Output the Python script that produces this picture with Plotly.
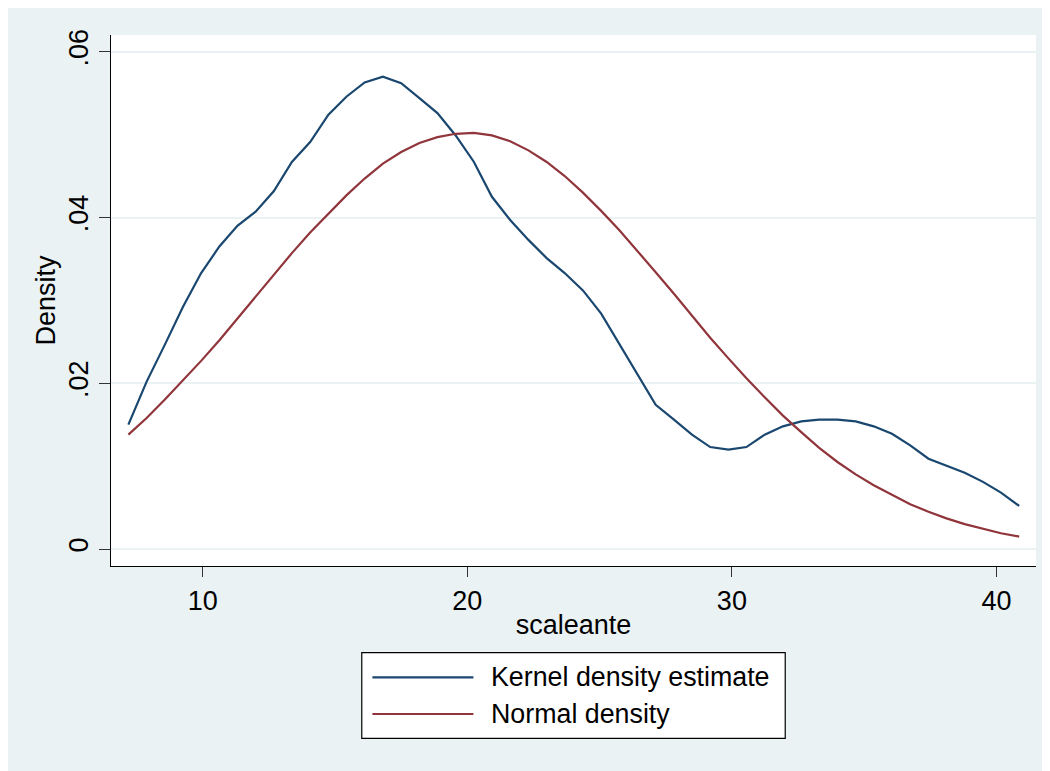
import plotly.graph_objects as go

# ---- data ----
x_grid = [7.19, 7.88, 8.56, 9.25, 9.94, 10.63, 11.31, 12.00, 12.69, 13.37,
          14.06, 14.75, 15.44, 16.12, 16.81, 17.50, 18.19, 18.87, 19.56, 20.25,
          20.93, 21.62, 22.31, 23.00, 23.68, 24.37, 25.06, 25.74, 26.43, 27.12,
          27.81, 28.49, 29.18, 29.87, 30.55, 31.24, 31.93, 32.62, 33.30, 33.99,
          34.68, 35.36, 36.05, 36.74, 37.43, 38.11, 38.80, 39.49, 40.17, 40.86]

kernel_density = [0.0150, 0.0202, 0.0246, 0.0292, 0.0333, 0.0365, 0.0390, 0.0407, 0.0432, 0.0467,
                  0.0491, 0.0524, 0.0546, 0.0563, 0.0570, 0.0562, 0.0544, 0.0526, 0.0499, 0.0467,
                  0.0425, 0.0397, 0.0373, 0.0351, 0.0333, 0.0312, 0.0284, 0.0248, 0.0210, 0.0174,
                  0.0156, 0.0138, 0.0123, 0.0120, 0.0123, 0.0138, 0.0148, 0.0154, 0.0156, 0.0156,
                  0.0154, 0.0148, 0.0139, 0.0125, 0.0109, 0.0101, 0.0092, 0.0081, 0.0068, 0.0052]

normal_density = [0.0138, 0.0158, 0.0180, 0.0203, 0.0227, 0.0252, 0.0278, 0.0305, 0.0331, 0.0357,
                  0.0382, 0.0405, 0.0427, 0.0447, 0.0465, 0.0479, 0.0490, 0.0497, 0.0501, 0.0502,
                  0.0499, 0.0492, 0.0481, 0.0467, 0.0450, 0.0430, 0.0408, 0.0385, 0.0360, 0.0334,
                  0.0308, 0.0281, 0.0255, 0.0230, 0.0206, 0.0183, 0.0161, 0.0141, 0.0122, 0.0105,
                  0.0090, 0.0077, 0.0065, 0.0054, 0.0045, 0.0037, 0.0030, 0.0024, 0.0019, 0.0015]

x_ticks = [10, 20, 30, 40]
y_ticks = [0, 0.02, 0.04, 0.06]
y_tick_labels = ["0", ".02", ".04", ".06"]
series_names = ["Kernel density estimate", "Normal density"]

# ---- styles ----
BLUE = "#1A476F"
RED = "#90353B"
BG = "#EAF2F3"
FONT = "Liberation Sans, Arial, Helvetica, sans-serif"
FS = 27

fig = go.Figure()
fig.add_trace(go.Scatter(x=x_grid, y=kernel_density, mode="lines", name=series_names[0],
                         line=dict(color=BLUE, width=2.2), showlegend=False))
fig.add_trace(go.Scatter(x=x_grid, y=normal_density, mode="lines", name=series_names[1],
                         line=dict(color=RED, width=2.2), showlegend=False))

fig.update_layout(
    width=1042, height=763,
    margin=dict(l=103, r=14, t=27, b=205),
    paper_bgcolor=BG, plot_bgcolor="white",
    font=dict(family=FONT, size=FS, color="black"),
    xaxis=dict(range=[6.533, 41.494], tickvals=x_ticks, showgrid=False, zeroline=False,
               showline=True, linecolor="black", linewidth=1.3,
               ticks="outside", ticklen=10, tickwidth=1.3, tickcolor="#333333",
               title=dict(text="scaleante", standoff=0, font=dict(size=FS)),
               tickfont=dict(size=FS)),
    yaxis=dict(range=[-0.00205, 0.06202], tickvals=y_ticks, ticktext=y_tick_labels,
               tickangle=-90, showgrid=True, gridcolor=BG, gridwidth=2, zeroline=False,
               showline=True, linecolor="black", linewidth=1.3,
               ticks="outside", ticklen=11, tickwidth=1.3, tickcolor="#333333",
               title=dict(text="Density", standoff=0, font=dict(size=FS)),
               tickfont=dict(size=FS)),
)

# legend box drawn below the plot
fig.add_shape(type="rect", xref="paper", yref="paper", x0=0.2711, x1=0.7289, y0=-0.3245, y1=-0.1633,
              fillcolor="white", line=dict(color="black", width=1.2))
row_y = [-0.2096, -0.2787]
colors = [BLUE, RED]
for name, yy, c in zip(series_names, row_y, colors):
    fig.add_shape(type="line", xref="paper", yref="paper", x0=0.2826, x1=0.3918, y0=yy, y1=yy,
                  line=dict(color=c, width=2.2))
    fig.add_annotation(xref="paper", yref="paper", x=0.4085, y=yy, text=name, showarrow=False,
                       xanchor="left", yanchor="middle", font=dict(size=26.8, color="black"))

fig.write_html("out.html")
